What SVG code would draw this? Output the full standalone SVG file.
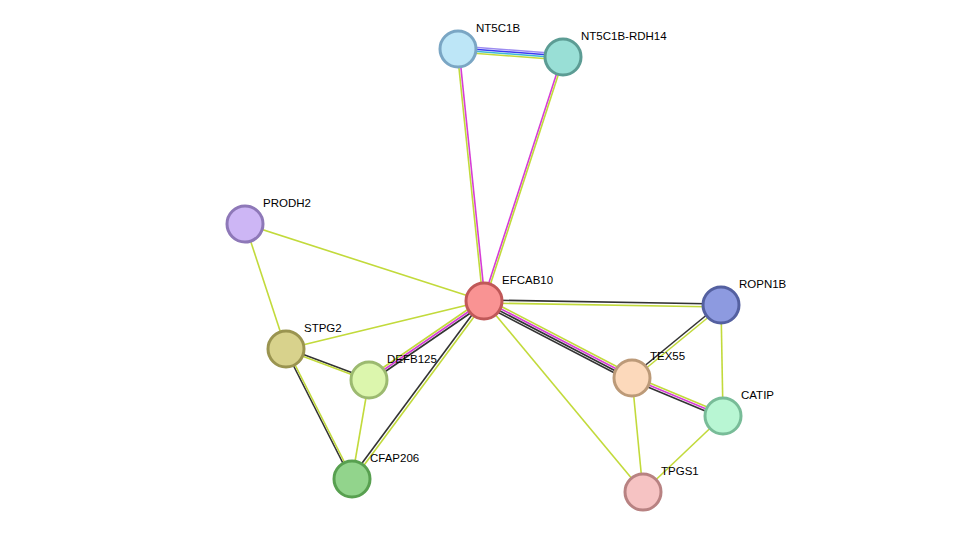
<svg xmlns="http://www.w3.org/2000/svg" width="975" height="538" viewBox="0 0 975 538">
<style>
line{stroke-width:1.6;fill:none}
.y{stroke:#c2da3b}.k{stroke:#333}.m{stroke:#d63cd6}.b{stroke:#3a3af0}.p{stroke:#9c8cf0}.c{stroke:#3cb8d6}
circle{stroke-width:3}
text{font-family:"Liberation Sans",Arial,sans-serif;font-size:11.5px;fill:#000}
</style>
<rect width="975" height="538" fill="#fff"/>
<g id="edges">
<line class="p" x1="458" y1="46" x2="563" y2="54"/>
<line class="b" x1="458" y1="48" x2="563" y2="56"/>
<line class="c" x1="458" y1="50" x2="563" y2="58"/>
<line class="y" x1="458" y1="52" x2="563" y2="60"/>
<line class="y" x1="457" y1="49" x2="483" y2="301"/>
<line class="m" x1="459" y1="49" x2="485" y2="301"/>
<line class="m" x1="562" y1="57" x2="483" y2="301"/>
<line class="y" x1="564" y1="57" x2="485" y2="301"/>
<line class="y" x1="245" y1="224" x2="484" y2="301"/>
<line class="y" x1="245" y1="224" x2="286" y2="349"/>
<line class="y" x1="286" y1="349" x2="484" y2="301"/>
<line class="k" x1="286" y1="348" x2="369" y2="379"/>
<line class="y" x1="286" y1="350" x2="369" y2="381"/>
<line class="k" x1="285" y1="349" x2="351" y2="479"/>
<line class="y" x1="287" y1="349" x2="353" y2="479"/>
<line class="y" x1="368" y1="378" x2="483" y2="299"/>
<line class="m" x1="369" y1="380" x2="484" y2="301"/>
<line class="k" x1="370" y1="382" x2="485" y2="303"/>
<line class="y" x1="369" y1="380" x2="352" y2="479"/>
<line class="k" x1="483" y1="300" x2="351" y2="478"/>
<line class="y" x1="485" y1="302" x2="353" y2="480"/>
<line class="k" x1="484" y1="300" x2="721" y2="304"/>
<line class="y" x1="484" y1="303" x2="721" y2="307"/>
<line class="y" x1="485" y1="298" x2="633" y2="375"/>
<line class="m" x1="484" y1="300" x2="632" y2="377"/>
<line class="k" x1="483" y1="302" x2="631" y2="379"/>
<line class="k" x1="482" y1="304" x2="630" y2="381"/>
<line class="y" x1="484" y1="301" x2="643" y2="492"/>
<line class="k" x1="720" y1="304" x2="631" y2="377"/>
<line class="y" x1="722" y1="306" x2="633" y2="379"/>
<line class="y" x1="721" y1="305" x2="723" y2="416"/>
<line class="y" x1="633" y1="376" x2="724" y2="414"/>
<line class="m" x1="632" y1="378" x2="723" y2="416"/>
<line class="k" x1="631" y1="380" x2="722" y2="418"/>
<line class="y" x1="632" y1="378" x2="643" y2="492"/>
<line class="y" x1="723" y1="416" x2="643" y2="492"/>
</g>
<g id="NT5C1B"><circle cx="458" cy="49" r="18" fill="#bde6f7" stroke="#7aa6c4"/><text x="476" y="32">NT5C1B</text></g>
<g id="NT5C1B-RDH14"><circle cx="563" cy="57" r="18" fill="#99dfd6" stroke="#5c9c94"/><text x="581" y="40">NT5C1B-RDH14</text></g>
<g id="PRODH2"><circle cx="245" cy="224" r="18" fill="#cdb6f5" stroke="#8e78b8"/><text x="263" y="207">PRODH2</text></g>
<g id="EFCAB10"><circle cx="484" cy="301" r="18" fill="#f99393" stroke="#c05858"/><text x="502" y="284">EFCAB10</text></g>
<g id="ROPN1B"><circle cx="721" cy="305" r="18" fill="#8d9ae0" stroke="#5460a0"/><text x="739" y="288">ROPN1B</text></g>
<g id="STPG2"><circle cx="286" cy="349" r="18" fill="#d8d28c" stroke="#9a9450"/><text x="304" y="332">STPG2</text></g>
<g id="DEFB125"><circle cx="369" cy="380" r="18" fill="#dcf6ad" stroke="#9cba70"/><text x="387" y="363">DEFB125</text></g>
<g id="TEX55"><circle cx="632" cy="378" r="18" fill="#fcd9bb" stroke="#bc9a78"/><text x="650" y="360">TEX55</text></g>
<g id="CATIP"><circle cx="723" cy="416" r="18" fill="#b8f6d3" stroke="#78bc98"/><text x="741" y="399">CATIP</text></g>
<g id="CFAP206"><circle cx="352" cy="479" r="18" fill="#92d48c" stroke="#58a050"/><text x="370" y="462">CFAP206</text></g>
<g id="TPGS1"><circle cx="643" cy="492" r="18" fill="#f6c3c3" stroke="#b88282"/><text x="661" y="475">TPGS1</text></g>
</svg>
